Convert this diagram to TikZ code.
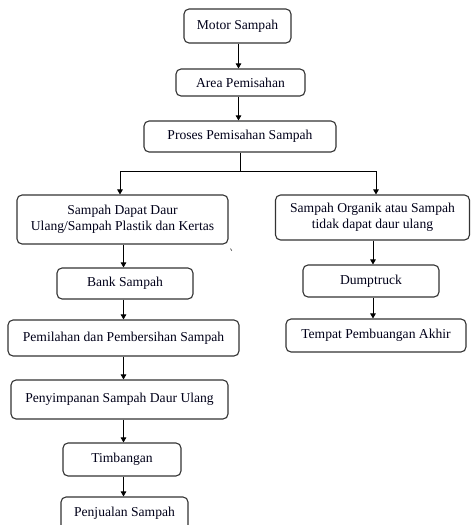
\documentclass[tikz,border=0pt]{standalone}
\usepackage{fontspec}
\setmainfont{Liberation Serif}
\usetikzlibrary{arrows.meta}
\tikzset{
  box/.style={draw=black!80, line width=1.1pt, rounded corners=5pt, inner sep=0pt, align=center,
    font=\fontsize{13.6}{16}\selectfont, text=black!90!blue},
  arr/.style={line width=0.9pt, -{Triangle[length=5pt,width=5.5pt]}},
  ln/.style={line width=0.9pt}
}
\begin{document}
\begin{tikzpicture}[x=1pt,y=-1pt]
\clip (0,0) rectangle (471,525);
\fill[white] (0,0) rectangle (471,525);
\node[box, minimum width=107, minimum height=34] (motor) at (237.5,26) {Motor Sampah};
\node[box, minimum width=129, minimum height=27] (area) at (240.5,82.5) {Area Pemisahan};
\node[box, minimum width=192, minimum height=31] (proses) at (240,136.5) {Proses Pemisahan Sampah};
\node[box, minimum width=211, minimum height=49] (sd) at (122.5,219.5) {Sampah Dapat Daur\\Ulang/Sampah Plastik dan Kertas};
\node[box, minimum width=194, minimum height=45] (so) at (372.5,217.5) {Sampah Organik atau Sampah\\tidak dapat daur ulang};
\node[box, minimum width=136, minimum height=31] (bank) at (125,283.5) {Bank Sampah};
\node[box, minimum width=136, minimum height=32] (dump) at (371,281) {Dumptruck};
\node[box, minimum width=231, minimum height=36] (pemilahan) at (123.5,338) {Pemilahan dan Pembersihan Sampah};
\node[box, minimum width=180, minimum height=33] (tempat) at (376,335.5) {Tempat Pembuangan Akhir};
\node[box, minimum width=217, minimum height=39] (simpan) at (119.5,399.5) {Penyimpanan Sampah Daur Ulang};
\node[box, minimum width=118, minimum height=33] (timbang) at (122,459.5) {Timbangan};
\node[box, minimum width=127, minimum height=33] (jual) at (124.5,513.5) {Penjualan Sampah};
\coordinate (C) at (238.5,0);
\coordinate (L) at (123.5,0);
\coordinate (R) at (373,0);
\coordinate (bl) at (120,171);
\coordinate (br) at (376,171);
\draw[arr] (motor.south -| C) -- (area.north -| C);
\draw[arr] (area.south -| C) -- (proses.north -| C);
\draw[ln] (proses.south) -- (proses.south |- bl);
\draw[ln] (bl) -- (br);
\draw[arr] (bl) -- (sd.north -| bl);
\draw[arr] (br) -- (so.north -| br);
\draw[arr] (sd.south -| L) -- (bank.north -| L);
\draw[arr] (bank.south -| L) -- (pemilahan.north -| L);
\draw[arr] (pemilahan.south -| L) -- (simpan.north -| L);
\draw[arr] (simpan.south -| L) -- (timbang.north -| L);
\draw[arr] (timbang.south -| L) -- (jual.north -| L);
\draw[arr] (so.south -| R) -- (dump.north -| R);
\draw[arr] (dump.south -| R) -- (tempat.north -| R);
\draw[black!60, line width=0.8pt] (230.5,248.5) -- (231.8,250.8);
\end{tikzpicture}
\end{document}
